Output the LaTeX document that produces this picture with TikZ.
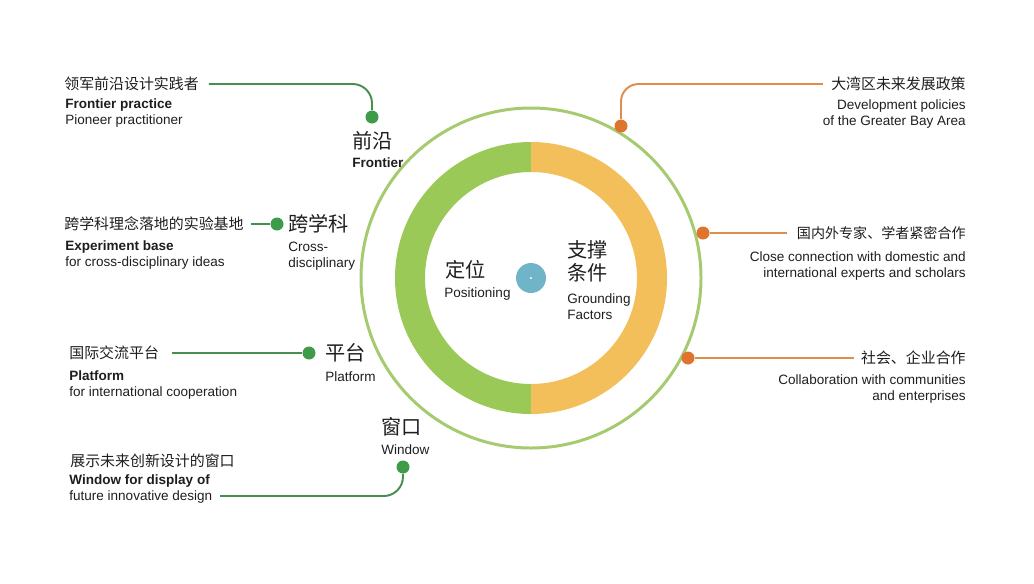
\documentclass[tikz,border=0pt]{standalone}
\usepackage{fontspec}
\setmainfont{Liberation Sans}
\newfontfamily\cjk{Noto Sans CJK SC}
\usepackage{tikz}
\usepackage{xcolor}
\definecolor{ringgreen}{RGB}{155,201,88}
\definecolor{ringorange}{RGB}{242,191,90}
\definecolor{circline}{RGB}{165,202,112}
\definecolor{dotgreen}{RGB}{62,156,72}
\definecolor{linegreen}{RGB}{72,142,78}
\definecolor{dotorange}{RGB}{222,116,46}
\definecolor{lineorange}{RGB}{222,142,72}
\definecolor{hubblue}{RGB}{112,180,200}
\definecolor{txtgray}{RGB}{30,30,30}

\begin{document}
\begin{tikzpicture}[x=0.02cm, y=-0.02cm,
  zh/.style={font=\cjk\fontsize{8.5}{10}\selectfont, text=txtgray, inner sep=0pt},
  zhbig/.style={font=\cjk\fontsize{11.5}{13.2}\selectfont, text=txtgray, inner sep=0pt, align=left},
  en/.style={font=\fontsize{7.7}{9.1}\selectfont, text=txtgray, inner sep=0pt},
  gdot/.style={circle, fill=dotgreen, inner sep=0pt, minimum size=0.26cm},
  odot/.style={circle, fill=dotorange, inner sep=0pt, minimum size=0.26cm},
  gline/.style={draw=linegreen, line width=1.1pt},
  oline/.style={draw=lineorange, line width=1.1pt}]
  \useasboundingbox (0,0) rectangle (1034,583);

  % Ring (positioning / grounding factors)
  \fill[ringgreen] (531,142) arc[start angle=270, end angle=90, radius=136]
    -- (531,384) arc[start angle=90, end angle=270, radius=106] -- cycle;
  \fill[ringorange] (531,142) arc[start angle=-90, end angle=90, radius=136]
    -- (531,384) arc[start angle=90, end angle=-90, radius=106] -- cycle;
  \draw[circline, line width=1.7pt] (531,278) circle[radius=170];

  % Hub
  \node[circle, fill=hubblue, inner sep=0pt, minimum size=0.6cm] (hub) at (531,278) {};
  \fill[white] (hub.center) circle[radius=1.2];
  \node[zhbig, anchor=west] (pos) at (445,270) {定位};
  \node[en, anchor=west] (posen) at (444,294) {Positioning};
  \node[zhbig, anchor=west] (gro) at (567,261.5) {支撑\\条件};
  \node[en, anchor=west, align=left] (groen) at (567,307) {Grounding\\Factors};

  % Left side: dots and labels
  \node[gdot] (d1) at (372,117) {};
  \node[gdot] (d2) at (277,224) {};
  \node[gdot] (d3) at (309,353) {};
  \node[gdot] (d4) at (403,467) {};

  \node[zhbig, anchor=west] (b1) at (352,141) {前沿};
  \node[en, anchor=west] (b1en) at (352,163) {\textbf{Frontier}};
  \node[zhbig, anchor=west] (b2) at (288,224) {跨学科};
  \node[en, anchor=west, align=left] (b2en) at (288,256) {Cross-\\disciplinary};
  \node[zhbig, anchor=west] (b3) at (325,353) {平台};
  \node[en, anchor=west] (b3en) at (325,377) {Platform};
  \node[zhbig, anchor=west] (b4) at (381,427) {窗口};
  \node[en, anchor=west] (b4en) at (381,450) {Window};

  \node[zh, anchor=west] (c1) at (64,84) {领军前沿设计实践者};
  \node[en, anchor=west, align=left] (e1) at (65,113) {\textbf{Frontier practice}\\Pioneer practitioner};
  \node[zh, anchor=west] (c2) at (64,224) {跨学科理念落地的实验基地};
  \node[en, anchor=west, align=left] (e2) at (65,255) {\textbf{Experiment base}\\for cross-disciplinary ideas};
  \node[zh, anchor=west] (c3) at (69,353) {国际交流平台};
  \node[en, anchor=west, align=left] (e3) at (69,385) {\textbf{Platform}\\for international cooperation};
  \node[zh, anchor=west] (c4) at (70,461) {展示未来创新设计的窗口};
  \node[en, anchor=west, align=left] (e4) at (69,489) {\textbf{Window for display of}\\future innovative design};
  \coordinate (w0) at (220,496);

  % Left connectors
  \draw[gline, rounded corners=11pt] ([xshift=5.5pt]c1.east) -| (d1);
  \draw[gline] ([xshift=4pt]c2.east) -- (d2);
  \draw[gline] ([xshift=7pt]c3.east) -- (d3);
  \draw[gline, rounded corners=11pt] (w0) -| (d4);

  % Right side: dots and labels
  \node[odot] (d5) at (621,126) {};
  \node[odot] (d6) at (703,233) {};
  \node[odot] (d7) at (688,358) {};

  \node[zh, anchor=east] (r1) at (966,84) {大湾区未来发展政策};
  \node[en, anchor=east, align=right] (f1) at (966,114) {Development policies\\of the Greater Bay Area};
  \node[zh, anchor=east, font=\cjk\fontsize{8}{10}\selectfont] (r2) at (966,233) {国内外专家、学者紧密合作};
  \node[en, anchor=east, align=right] (f2) at (966,266) {Close connection with domestic and\\international experts and scholars};
  \node[zh, anchor=east] (r3) at (966,358) {社会、企业合作};
  \node[en, anchor=east, align=right] (f3) at (966,389) {Collaboration with communities\\and enterprises};

  % Right connectors
  \draw[oline, rounded corners=10pt] (d5) |- ([xshift=-4.5pt]r1.west);
  \draw[oline] (d6) -- ([xshift=-5.5pt]r2.west);
  \draw[oline] (d7) -- ([xshift=-4pt]r3.west);
\end{tikzpicture}
\end{document}
